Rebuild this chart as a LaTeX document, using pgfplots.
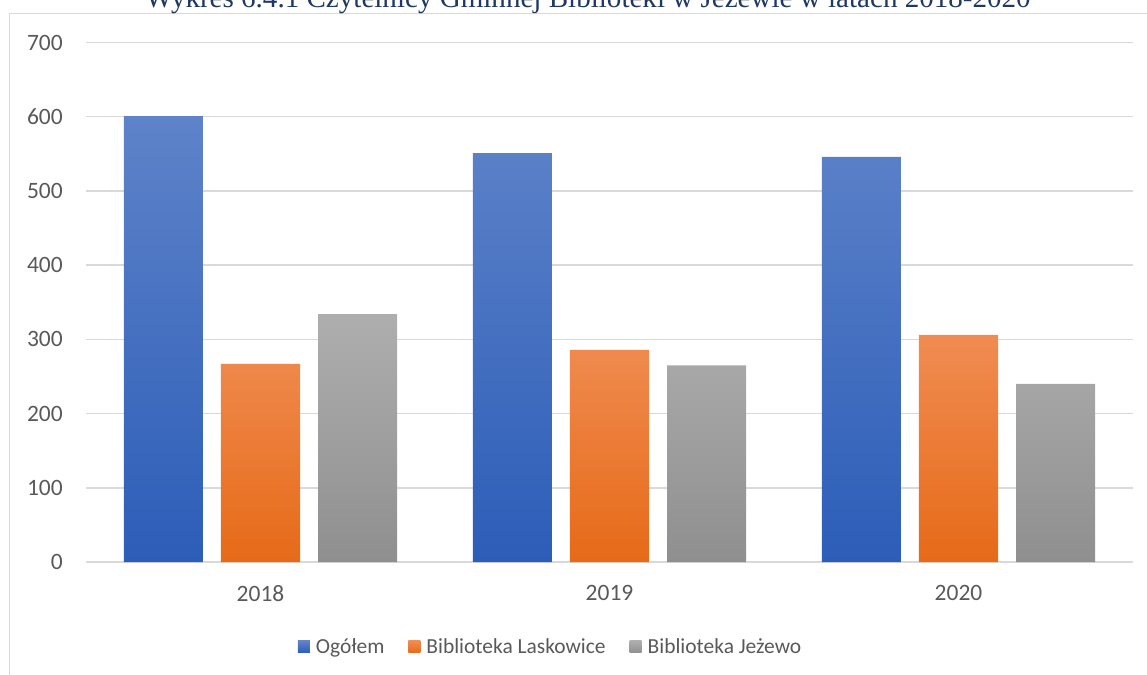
\documentclass[border=0pt]{standalone}
\usepackage{pgfplots}
\pgfplotsset{compat=1.18}
\usepackage{fontspec}
\setmainfont{Carlito}
\newfontfamily\titlefont{Liberation Serif}
\definecolor{blueT}{HTML}{5E83C9}
\definecolor{blueB}{HTML}{2C5DB8}
\definecolor{orangeT}{HTML}{F08C52}
\definecolor{orangeB}{HTML}{E66A18}
\definecolor{grayT}{HTML}{AEAEAE}
\definecolor{grayB}{HTML}{8F8F8F}
\definecolor{gridgray}{HTML}{D9D9D9}
\definecolor{labelgray}{HTML}{595959}
\definecolor{titlenavy}{HTML}{1F3864}
\begin{document}
\begin{tikzpicture}
\clip[use as bounding box] (0pt,0pt) rectangle (860.25pt,-506.25pt);
\draw[color=gridgray, line width=1pt] (7pt,-520pt) -- (7pt,-10.1pt) -- (880pt,-10.1pt);
\node[anchor=base, inner sep=0pt, text=titlenavy, font=\titlefont\fontsize{21.8}{24}\selectfont] at (441pt,-5.8pt) {Wykres 6.4.1 Czytelnicy Gminnej Biblioteki w Jeżewie w latach 2018-2020};
\begin{axis}[
  at={(64.5pt,-421.5pt)}, anchor=south west,
  width=785.25pt, height=389.6pt, scale only axis,
  xmin=-0.5, xmax=2.5, ymin=0, ymax=700,
  xtick={0,1,2}, xticklabels={2018,2019,2020},
  ytick={0,100,...,700},
  ymajorgrids, grid style={color=gridgray, line width=1.1pt},
  axis line style={draw=none},
  major tick length=0pt,
  /pgf/number format/assume math mode=true,
  tick label style={font=\fontsize{17.6}{20}\selectfont, text=labelgray},
  yticklabel style={inner sep=0pt, xshift=-17.25pt},
  xticklabel style={inner sep=0pt, yshift=-17.6pt},
  legend style={at={(0.444,-0.1636)}, anchor=center, draw=none, fill=none,
    legend columns=3, font=\fontsize{16.1}{18}\selectfont, text=labelgray,
    /tikz/every odd column/.append style={column sep=2.5pt},
    /tikz/every even column/.append style={column sep=16pt}},
  clip=false,
]
\addplot[ybar, bar width=0.2264, bar shift=-0.278, draw=none, top color=blueT, bottom color=blueB,
  legend image code/.code={\path[draw=none, top color=blueT, bottom color=blueB] (0pt,-4.5pt) rectangle (9pt,4.5pt);}]
  coordinates {(0,601) (1,551) (2,546)};
\addlegendentry{Ogółem}
\addplot[ybar, bar width=0.2264, bar shift=0, draw=none, top color=orangeT, bottom color=orangeB,
  legend image code/.code={\path[draw=none, top color=orangeT, bottom color=orangeB] (0pt,-4.5pt) rectangle (9pt,4.5pt);}]
  coordinates {(0,267) (1,286) (2,306)};
\addlegendentry{Biblioteka Laskowice}
\addplot[ybar, bar width=0.2264, bar shift=0.278, draw=none, top color=grayT, bottom color=grayB,
  legend image code/.code={\path[draw=none, top color=grayT, bottom color=grayB] (0pt,-4.5pt) rectangle (9pt,4.5pt);}]
  coordinates {(0,334) (1,265) (2,240)};
\addlegendentry{Biblioteka Jeżewo}
\end{axis}
\end{tikzpicture}
\end{document}
